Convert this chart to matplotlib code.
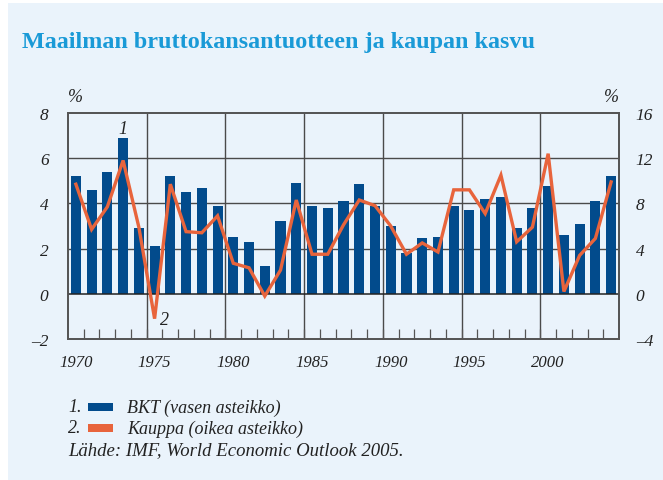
import matplotlib
matplotlib.use("Agg")
import matplotlib.pyplot as plt
from matplotlib.patches import Rectangle

years = list(range(1970, 2005))
# BKT, left axis (%)
bkt = [5.2, 4.6, 5.4, 6.9, 2.9, 2.1, 5.2, 4.5, 4.7, 3.9,
       2.5, 2.3, 1.25, 3.2, 4.9, 3.9, 3.8, 4.1, 4.85, 3.9,
       3.0, 1.8, 2.45, 2.5, 3.9, 3.7, 4.2, 4.3, 2.9, 3.8,
       4.75, 2.6, 3.1, 4.1, 5.2]
# Kauppa, right axis (%)
kauppa = [9.7, 5.7, 7.7, 11.8, 5.9, -2.2, 9.7, 5.5, 5.4, 6.9,
          2.7, 2.3, -0.2, 2.1, 8.3, 3.5, 3.5, 6.1, 8.3, 7.8,
          6.0, 3.5, 4.5, 3.7, 9.2, 9.2, 7.1, 10.5, 4.6, 5.9,
          12.4, 0.2, 3.4, 4.9, 9.9]
left_ticks = [-2, 0, 2, 4, 6, 8]
right_ticks = [-4, 0, 4, 8, 12, 16]
year_labels = [1970, 1975, 1980, 1985, 1990, 1995, 2000]

BG = "#eaf3fb"
BLUE = "#024b8c"
ORANGE = "#e8643c"
GRID = "#4a4a4a"
SERIF = ["Liberation Serif", "DejaVu Serif"]

plt.rcParams["font.family"] = SERIF
plt.rcParams["font.style"] = "italic"

fig = plt.figure(figsize=(6.63, 4.81), dpi=100)
fig.patch.set_facecolor("white")
fig.patches.append(Rectangle((8 / 663, 0), 655 / 663, 477 / 481,
                             transform=fig.transFigure, facecolor=BG,
                             edgecolor="none", zorder=-5))

ax = fig.add_axes([68 / 663, 1 - 340 / 481, 551 / 663, 226 / 481])
ax.set_facecolor(BG)
ax.bar(years, bkt, width=0.64, color=BLUE, zorder=2)
ax.set_xlim(1969.5, 2004.5)
ax.set_ylim(-2, 8)

for y in [2, 4, 6]:
    ax.axhline(y, color=GRID, lw=1.0, zorder=1)
ax.axhline(0, color="#222222", lw=1.1, zorder=3)
for x in [1974.5, 1979.5, 1984.5, 1989.5, 1994.5, 1999.5]:
    ax.axvline(x, color=GRID, lw=1.0, zorder=1)

for s in ax.spines.values():
    s.set_color("#555555")
    s.set_linewidth(1.3)

ax.set_yticks(left_ticks)
ax.set_yticklabels([str(t).replace("-", "\u2013") for t in left_ticks])
ax.tick_params(axis="y", length=0, pad=14, labelsize=12.5, colors="#222222")
ax.set_xticks(year_labels)
ax.set_xticklabels([str(y) for y in year_labels])
ax.set_xticks([y + 0.5 for y in range(1970, 2004)], minor=True)
ax.tick_params(axis="x", which="major", length=0, pad=11, labelsize=12, colors="#222222")
ax.tick_params(axis="x", which="minor", direction="in", length=7, width=0.9, color="#555555")

ax2 = ax.twinx()
ax2.plot(years, kauppa, color=ORANGE, lw=2.4, zorder=4, solid_joinstyle="miter")
ax2.set_ylim(-4, 16)
ax2.set_yticks(right_ticks)
ax2.set_yticklabels([str(t).replace("-", "\u2013") for t in right_ticks])
ax2.tick_params(axis="y", length=0, pad=12, labelsize=12.5, colors="#222222")
for s in ax2.spines.values():
    s.set_color("#555555")
    s.set_linewidth(1.3)

ax.text(1973, 7.3, "1", fontsize=13, ha="center", va="center", color="#222222")
ax.text(1975.6, -1.15, "2", fontsize=13, ha="center", va="center", color="#222222")

fig.text(75 / 663, 1 - 98 / 481, "%", fontsize=13, ha="center", va="center", color="#222222")
fig.text(611 / 663, 1 - 98 / 481, "%", fontsize=13, ha="center", va="center", color="#222222")

fig.text(22 / 663, 1 - 48 / 481, "Maailman bruttokansantuotteen ja kaupan kasvu",
         fontsize=17.4, fontweight="bold", fontstyle="normal", color="#1a9ad7",
         ha="left", va="baseline")

legend_rows = [("1.", BLUE, "BKT (vasen asteikko)"),
               ("2.", ORANGE, "Kauppa (oikea asteikko)")]
for i, (num, col, label) in enumerate(legend_rows):
    yy = 1 - (408 + 21 * i) / 481
    fig.text(68 / 663, yy, num, fontsize=13, va="center", color="#222222")
    fig.patches.append(Rectangle((88 / 663, yy - 4 / 481), 25 / 663, 8 / 481,
                                 transform=fig.transFigure, facecolor=col,
                                 edgecolor="none"))
    fig.text(127 / 663, yy, label, fontsize=13, va="center", color="#222222")
fig.text(68 / 663, 1 - 451 / 481, "Lähde: IMF, World Economic Outlook 2005.",
         fontsize=13.5, va="center", color="#222222")

fig.savefig("out.png", dpi=100, facecolor=fig.get_facecolor())
